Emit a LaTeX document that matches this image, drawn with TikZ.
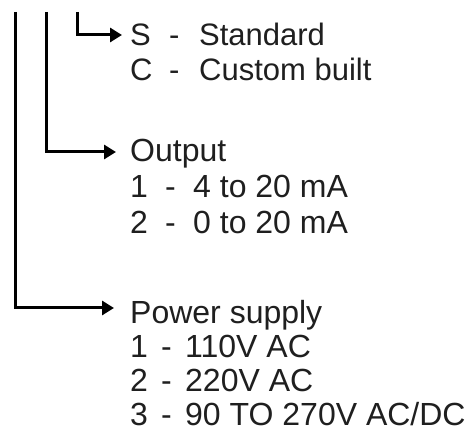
\documentclass[tikz,border=0pt]{standalone}
\usepackage{fontspec}
\setmainfont{Liberation Sans}
\usetikzlibrary{arrows.meta}
\begin{document}
\begin{tikzpicture}[x=1pt,y=-1pt,
  conn/.style={line width=3pt,-{Triangle[length=12pt,width=14pt]}},
  txt/.style={anchor=base west,inner sep=0pt,font=\fontsize{31}{35}\selectfont,text=black!88},
  bigtxt/.style={txt,font=\fontsize{32}{35}\selectfont}]
\useasboundingbox[fill=white] (0,0) rectangle (474,435);
% block 1
\node[txt] (s1) at (130,46) {\makebox[39pt][l]{S}\makebox[30pt][l]{-}Standard};
\node[txt] (s2) at (130,81) {\makebox[39pt][l]{C}\makebox[30pt][l]{-}Custom built};
% block 2
\node[bigtxt] (o1) at (130,162) {Output};
\node[bigtxt] (o2) at (130,198) {\makebox[35pt][l]{1}\makebox[28pt][l]{-}4 to 20 mA};
\node[bigtxt] (o3) at (130,234) {\makebox[35pt][l]{2}\makebox[28pt][l]{-}0 to 20 mA};
% block 3
\node[bigtxt] (p1) at (130,324) {Power supply};
\node[bigtxt] (p2) at (130,358) {\makebox[31pt][l]{1}\makebox[24pt][l]{-}110V AC};
\node[bigtxt] (p3) at (130,392) {\makebox[31pt][l]{2}\makebox[24pt][l]{-}220V AC};
\node[bigtxt] (p4) at (130,426) {\makebox[31pt][l]{3}\makebox[24pt][l]{-}90 TO 270V AC/DC};
% connectors
\coordinate (t1) at (15,12);
\coordinate (t2) at (46,12);
\coordinate (t3) at (77,12);
\coordinate (e1) at (122,35);
\coordinate (e2) at (116,152);
\coordinate (e3) at (114,308);
\draw[conn] (t3) |- (e1);
\draw[conn] (t2) |- (e2);
\draw[conn] (t1) |- (e3);
\end{tikzpicture}
\end{document}
